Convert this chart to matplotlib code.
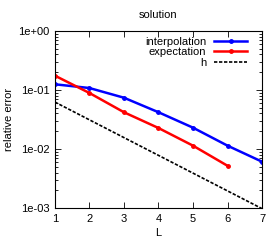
import matplotlib
matplotlib.use("Agg")
import matplotlib.pyplot as plt
from matplotlib.ticker import LogLocator, NullFormatter, FixedLocator

# data
levels = [1, 2, 3, 4, 5, 6, 7]
interp_err = [0.125, 0.108, 0.074, 0.042, 0.023, 0.0114, 0.0061]
expect_levels = [1, 2, 3, 4, 5, 6]
expect_err = [0.175, 0.089, 0.042, 0.0227, 0.0114, 0.0052]
h_vals = [0.0625, 0.03125, 0.015625, 0.0078125, 0.00390625, 0.001953125, 0.0009765625]

plt.rcParams['font.family'] = ['Liberation Sans', 'DejaVu Sans']
plt.rcParams['font.size'] = 8

fig = plt.figure(figsize=(2.8, 2.4), dpi=100)
ax = fig.add_axes([0.196, 0.133, 0.740, 0.738])

ax.plot(levels, interp_err, color='#0000ff', lw=1.8, marker='o', ms=2.5, label='interpolation')
ax.plot(expect_levels, expect_err, color='#ff0000', lw=1.8, marker='o', ms=2.5, label='expectation')
ax.plot(levels, h_vals, color='black', lw=1.2, ls=(0, (2, 1)), label='h')

ax.set_yscale('log')
ax.set_xlim(1, 7)
ax.set_ylim(1e-3, 1)
ax.xaxis.set_major_locator(FixedLocator(levels))
ax.set_yticks([1e-3, 1e-2, 1e-1, 1])
ax.set_yticklabels(['1e-03', '1e-02', '1e-01', '1e+00'])
ax.yaxis.set_minor_locator(LogLocator(base=10, subs=range(2, 10)))
ax.yaxis.set_minor_formatter(NullFormatter())
ax.tick_params(which='both', direction='in', top=True, right=True, width=0.6)
ax.tick_params(which='major', length=4, pad=4)
ax.tick_params(which='minor', length=2)
for s in ax.spines.values():
    s.set_linewidth(0.8)

ax.set_title('solution', fontsize=8, pad=9)
ax.set_xlabel('L', labelpad=3)
ax.set_ylabel('relative error', labelpad=3)
ax.legend(loc='upper right', bbox_to_anchor=(0.955, 1.0), frameon=False,
          markerfirst=False, handlelength=3.0, labelspacing=0.05,
          borderaxespad=0.1, handletextpad=0.7)

fig.savefig('out.png', dpi=100)
